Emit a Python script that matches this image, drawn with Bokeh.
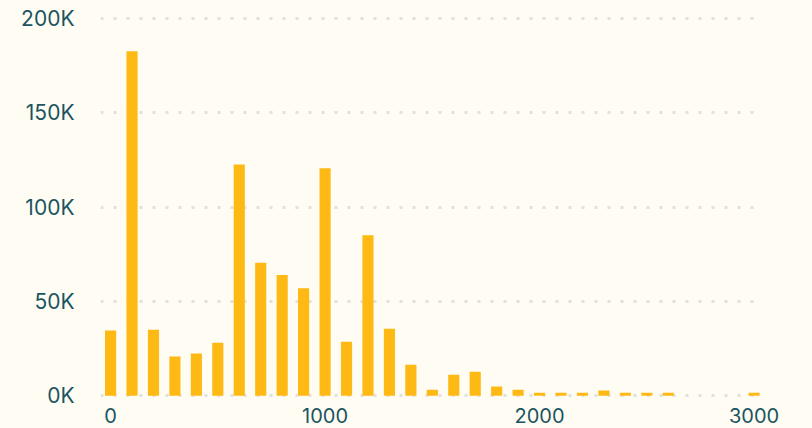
from bokeh.plotting import figure
from bokeh.models import ColumnDataSource, FixedTicker, CustomJSTickFormatter, Range1d, GlobalInlineStyleSheet
from bokeh.embed import file_html
from bokeh.resources import INLINE

bins = [0, 100, 200, 300, 400, 500, 600, 700, 800, 900, 1000, 1100, 1200, 1300,
        1400, 1500, 1600, 1700, 1800, 1900, 2000, 2100, 2200, 2300, 2400, 2500,
        2600, 2700, 2800, 2900, 3000]
counts = [34500, 182500, 35000, 20700, 22300, 28000, 122500, 70500, 64000, 57000,
          120500, 28600, 85000, 35500, 16400, 3200, 11100, 12700, 4800, 3200,
          1600, 1600, 1600, 2700, 1600, 1600, 1600, 0, 0, 0, 1600]
x_ticks = [0, 1000, 2000, 3000]
y_ticks = [0, 50000, 100000, 150000, 200000]

BG = "#FFFCF4"
TEXT = "#1B5561"
BAR = "#FFB914"

src = ColumnDataSource(dict(x=bins, top=counts))

p = figure(width=812, height=428, output_backend="svg", toolbar_location=None,
           x_range=Range1d(-47, 3030), y_range=Range1d(-1500, 201500),
           background_fill_color=BG, border_fill_color=BG, outline_line_color=None,
           min_border_left=100, min_border_right=52, min_border_top=15, min_border_bottom=30)
p.stylesheets = [GlobalInlineStyleSheet(css=f"html, body {{ background: {BG}; }}")]

p.vbar(x="x", top="top", width=52, bottom=0, source=src, color=BAR, line_color=None)

for ax in (p.xaxis[0], p.yaxis[0]):
    ax.axis_line_color = None
    ax.major_tick_line_color = None
    ax.minor_tick_line_color = None
    ax.major_label_text_color = TEXT
    ax.major_label_text_font = "Inter"
    ax.major_label_text_font_size = "21px"

p.xaxis.major_label_text_font_size = "20px"
p.xaxis.ticker = FixedTicker(ticks=x_ticks)
p.yaxis.ticker = FixedTicker(ticks=y_ticks)
p.yaxis.formatter = CustomJSTickFormatter(code="return (tick/1000).toFixed(0) + 'K';")
p.yaxis.major_label_standoff = 20
p.xaxis.major_label_standoff = 3

p.xgrid.grid_line_color = None
p.ygrid.grid_line_color = "#E3E1DC"
p.ygrid.grid_line_width = 3
p.ygrid.grid_line_dash = "3 10"
p.ygrid.level = "underlay"

open("out.html", "w").write(file_html(p, INLINE))
